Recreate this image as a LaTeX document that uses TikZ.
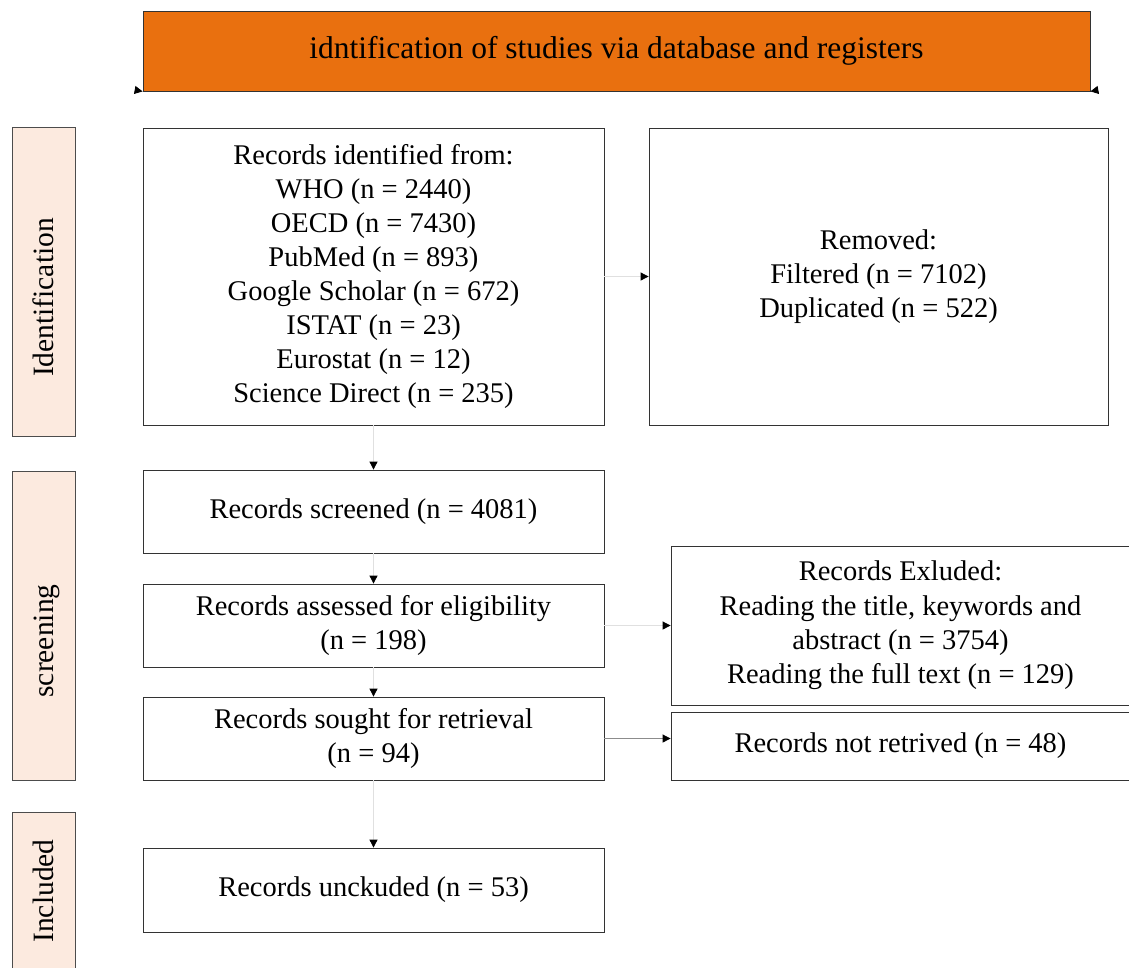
\documentclass[tikz,border=0pt]{standalone}
\usepackage{fontspec}
\setmainfont{Liberation Serif}
\usetikzlibrary{arrows.meta}
\definecolor{headorange}{HTML}{E9700F}
\definecolor{phasefill}{HTML}{FCEADF}
\begin{document}
\begin{tikzpicture}[x=1pt,y=-1pt,
  every node/.style={font=\fontsize{28.5}{34}\selectfont},
  box/.style={draw=black!80, line width=0.8pt, fill=white, align=center,
    inner sep=0pt},
  phasebox/.style={draw=black!70, line width=0.8pt, fill=phasefill,
    inner sep=0pt, minimum width=63pt},
  phasetext/.style={rotate=90, anchor=base, inner sep=0pt,
    font=\fontsize{29.5}{34}\selectfont},
  conn/.style={draw=black!12, line width=0.8pt,
    -{Triangle[length=8pt,width=8pt,color=black]}},
  conndark/.style={conn, draw=black!45}
]
\fill[white] (0,0) rectangle (1129,967);
\useasboundingbox (0,0) rectangle (1129,967);

% title banner
\node[box, fill=headorange, minimum width=947pt, minimum height=80pt,
  font=\fontsize{31.5}{36}\selectfont]
  (head) at (616.5,51) {idntification of studies via database and registers};
\coordinate (hl) at (135,90);
\coordinate (hr) at (1098,90);
\draw[conn] (hl) -- (head.south west);
\draw[conn] (hr) -- (head.south east);

% phase labels
\node[phasebox, minimum height=309pt] (pident) at (43.5,281.5) {};
\node[phasetext] (tident) at (53,297.5) {Identification};
\node[phasebox, minimum height=309pt] (pscreen) at (43.5,625.5) {};
\node[phasetext] (tscreen) at (53,641) {screening};
\node[phasebox, minimum height=163pt] (pincl) at (43.5,893.5) {};
\node[phasetext] (tincl) at (53,891) {Included};

% main column
\node[box, minimum width=461pt, minimum height=297pt] (ident) at (373.5,276.5)
  {Records identified from:\\ WHO (n = 2440)\\ OECD (n = 7430)\\ PubMed (n = 893)\\
   Google Scholar (n = 672)\\ ISTAT (n = 23)\\ Eurostat (n = 12)\\ Science Direct (n = 235)};
\node[box, minimum width=461pt, minimum height=83pt] (screened) at (373.5,511.5)
  {Records screened (n = 4081)};
\node[box, minimum width=461pt, minimum height=83pt] (assessed) at (373.5,625.5)
  {Records assessed for eligibility\\ (n = 198)};
\node[box, minimum width=461pt, minimum height=83pt] (sought) at (373.5,738.5)
  {Records sought for retrieval\\ (n = 94)};
\node[box, minimum width=461pt, minimum height=84pt] (incl) at (373.5,890)
  {Records unckuded (n = 53)};

% side column
\node[box, minimum width=459pt, minimum height=297pt] (removed) at (878.5,276.5)
  {Removed:\\ Filtered (n = 7102)\\ Duplicated (n = 522)};
\node[box, minimum width=459pt, minimum height=159pt] (excluded) at (900.5,625.5)
  {Records Exluded:\\[1pt] Reading the title, keywords and\\ abstract (n = 3754)\\ Reading the full text (n = 129)};
\node[box, minimum width=459pt, minimum height=68pt] (notret) at (900.5,746)
  {Records not retrived (n = 48)};

% connectors
\draw[conn] (ident.south) -- (screened.north);
\draw[conn] (screened.south) -- (assessed.north);
\draw[conn] (assessed.south) -- (sought.north);
\draw[conn] (sought.south) -- (incl.north);
\draw[conn] (ident.east) -- (removed.west);
\draw[conn] (assessed.east) -- (excluded.west);
\draw[conndark] (sought.east) -- (sought.east -| notret.west);
\end{tikzpicture}
\end{document}
